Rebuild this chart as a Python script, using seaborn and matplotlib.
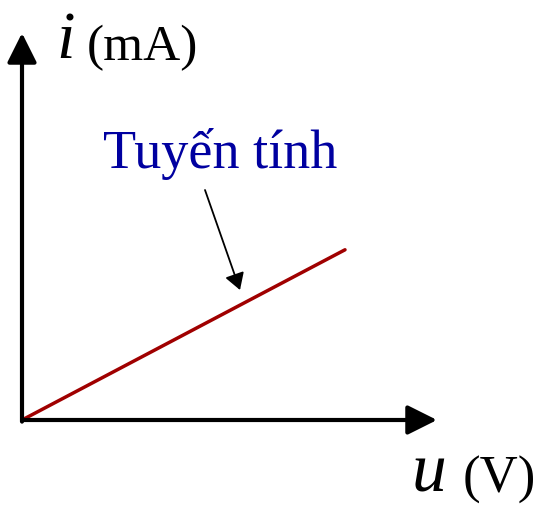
import matplotlib
matplotlib.use("Agg")
import matplotlib.pyplot as plt
import seaborn as sns
import pandas as pd

# data
u_values = [0.0, 10.0]
i_values = [0.0, 5.27]
label_text = "Tuyến tính"
x_label_sym = "u"
x_label_unit = "(V)"
y_label_sym = "i"
y_label_unit = "(mA)"

sns.set_style("white")
plt.rcParams["font.family"] = ["Liberation Serif", "DejaVu Serif"]
plt.rcParams["text.color"] = "black"

W, H = 540, 505
fig = plt.figure(figsize=(W / 100, H / 100), dpi=100)
ax = fig.add_axes([0, 0, 1, 1])
S = 32.3  # px per unit
ox, oy = 22, 420
ax.set_xlim(-ox / S, (W - ox) / S)
ax.set_ylim(-(H - oy) / S, oy / S)
ax.axis("off")

df = pd.DataFrame({"u": u_values, "i": i_values})
sns.lineplot(data=df, x="u", y="i", color="#a00000", linewidth=2.5, ax=ax)

# axes arrows
ax.annotate("", xy=((437 - ox) / S, 0), xytext=(0, 0),
            arrowprops=dict(arrowstyle="-|>,head_length=0.9,head_width=0.45",
                            mutation_scale=20, lw=3.0, color="black",
                            shrinkA=0, shrinkB=0))
ax.annotate("", xy=(0, (oy - 33) / S), xytext=(0, -0.05),
            arrowprops=dict(arrowstyle="-|>,head_length=0.9,head_width=0.45",
                            mutation_scale=20, lw=3.0, color="black",
                            shrinkA=0, shrinkB=0))

def fx(px):
    return px / W

def fy(py):
    return 1 - py / H

# label arrow
ax.annotate("", xy=((240 - ox) / S, (oy - 290) / S), xytext=((205 - ox) / S, (oy - 190) / S),
            arrowprops=dict(arrowstyle="-|>,head_length=0.5,head_width=0.3",
                            mutation_scale=20, lw=1.3, color="black",
                            shrinkA=0, shrinkB=0))
ax.text(fx(103), fy(168), label_text, transform=ax.transAxes, ha="left",
        va="baseline", fontsize=39, color="#0000a0")

ax.text(fx(56), fy(58), y_label_sym, transform=ax.transAxes, ha="left",
        va="baseline", fontsize=48, style="italic", color="black")
ax.text(fx(87), fy(60), y_label_unit, transform=ax.transAxes, ha="left",
        va="baseline", fontsize=37, color="black")
ax.text(fx(412), fy(492), x_label_sym, transform=ax.transAxes, ha="left",
        va="baseline", fontsize=50, style="italic", color="black")
ax.text(fx(463), fy(493), x_label_unit, transform=ax.transAxes, ha="left",
        va="baseline", fontsize=38, color="black")

fig.savefig("out.png", dpi=100)
